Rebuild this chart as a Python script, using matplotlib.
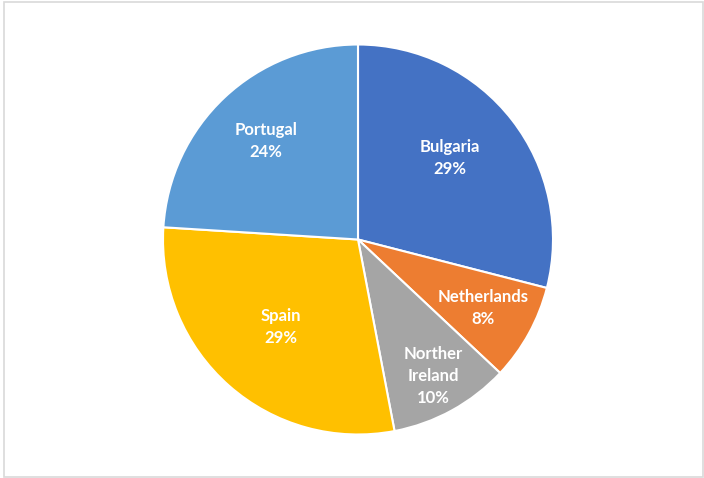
import numpy as np
import matplotlib
matplotlib.use("Agg")
import matplotlib.pyplot as plt
from matplotlib.patches import Rectangle

countries = ["Bulgaria", "Netherlands", "Norther\nIreland", "Spain", "Portugal"]
shares = [29, 8, 10, 29, 24]
colors = ["#4472C4", "#ED7D31", "#A5A5A5", "#FFC000", "#5B9BD5"]
label_dist = [0.63, 0.73, 0.80, 0.60, 0.69]
label_shift = [4, 0, 0, 0, 0]  # small angular nudges (degrees)

fig = plt.figure(figsize=(7.04, 4.78), dpi=100)
fig.patches.append(Rectangle((4 / 704, 1 / 478), 699 / 704, 475 / 478,
                             transform=fig.transFigure, fill=False,
                             edgecolor="#d9d9d9", linewidth=1.2))

cx, cy, r = 358, 478 - 239.5, 195
ax = fig.add_axes([(cx - r) / 704, (cy - r) / 478, 2 * r / 704, 2 * r / 478])

wedges, _ = ax.pie(shares, colors=colors, startangle=90, counterclock=False,
                   wedgeprops=dict(edgecolor="white", linewidth=1.5))
ax.set_xlim(-1, 1)
ax.set_ylim(-1, 1)
ax.set_aspect("equal")
ax.axis("off")

for w, name, pct, d, s in zip(wedges, countries, shares, label_dist, label_shift):
    ang = np.deg2rad((w.theta1 + w.theta2) / 2 + s)
    ax.text(d * np.cos(ang), d * np.sin(ang), f"{name}\n{pct}%",
            ha="center", va="center", color="white", fontsize=12,
            fontweight="bold", family="Lato", linespacing=1.45)

fig.savefig("out.png", dpi=100)
